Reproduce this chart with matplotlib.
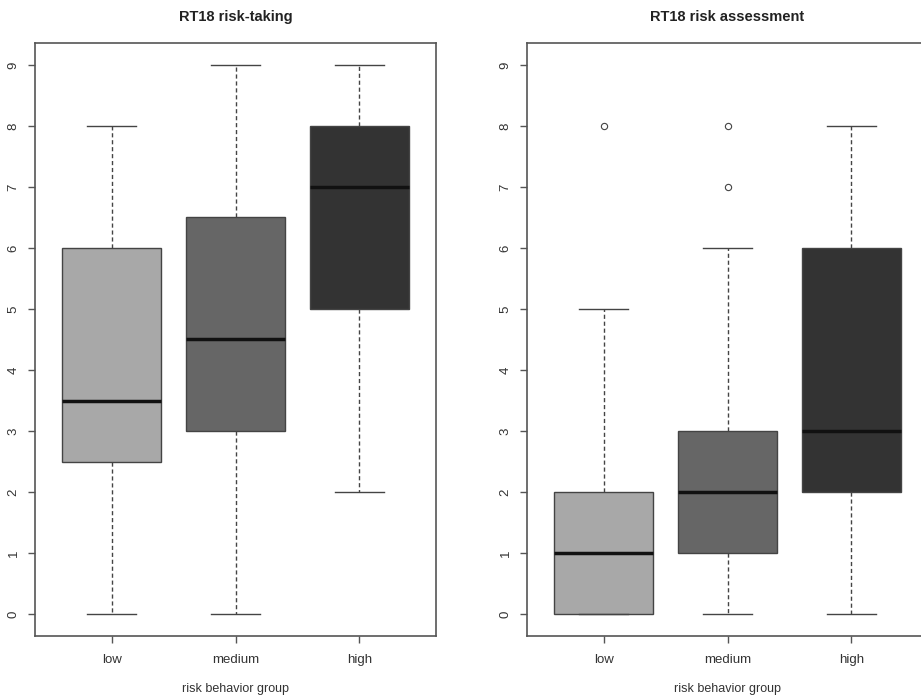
import matplotlib
matplotlib.use("Agg")
import matplotlib.pyplot as plt

plt.rcParams['font.family'] = ['Liberation Sans', 'DejaVu Sans']

groups = ["low", "medium", "high"]
colors = ["#a8a8a8", "#666666", "#333333"]

# RT18 risk-taking
rt_whislo = [0, 0, 2]
rt_q1 = [2.5, 3, 5]
rt_med = [3.5, 4.5, 7]
rt_q3 = [6, 6.5, 8]
rt_whishi = [8, 9, 9]
rt_fliers = [[], [], []]

# RT18 risk assessment
ra_whislo = [0, 0, 0]
ra_q1 = [0, 1, 2]
ra_med = [1, 2, 3]
ra_q3 = [2, 3, 6]
ra_whishi = [5, 6, 8]
ra_fliers = [[8], [7, 8], []]

W, H = 921, 696
fig = plt.figure(figsize=(W / 100, H / 100), dpi=100)

edge = "#444444"
axcol = "#555555"


def panel(left_px, title, whislo, q1, med, q3, whishi, fliers):
    x0 = left_px / W
    y0 = (H - 636) / H
    w = 401 / W
    h = (636 - 43) / H
    ax = fig.add_axes([x0, y0, w, h])
    stats = []
    for i in range(3):
        stats.append(dict(whislo=whislo[i], q1=q1[i], med=med[i], q3=q3[i],
                          whishi=whishi[i], fliers=fliers[i], label=groups[i]))
    bp = ax.bxp(stats, positions=[1, 2, 3], widths=0.8, patch_artist=True,
                showfliers=True,
                boxprops=dict(edgecolor=edge, linewidth=1.0),
                medianprops=dict(color="#111111", linewidth=2.5),
                whiskerprops=dict(color=edge, linewidth=1.0, linestyle=(0, (3, 2))),
                capprops=dict(color=edge, linewidth=1.0),
                capwidths=0.4,
                flierprops=dict(marker='o', markersize=4.5, markerfacecolor='none',
                                markeredgecolor=edge, markeredgewidth=0.8))
    for p, c in zip(bp['boxes'], colors):
        p.set_facecolor(c)
    ax.set_xlim(0.38, 3.62)
    ax.set_ylim(-0.36, 9.36)
    ax.set_yticks(range(0, 10))
    ax.set_yticklabels([str(v) for v in range(0, 10)], rotation=90, va='center',
                       fontsize=9.5, color="#333333")
    ax.set_xticks([1, 2, 3])
    ax.set_xticklabels(groups, fontsize=9.5, color="#333333")
    ax.tick_params(axis='both', length=5, color=axcol, width=1.0)
    ax.tick_params(axis='x', pad=8)
    ax.tick_params(axis='y', pad=6)
    for s in ax.spines.values():
        s.set_color(axcol)
        s.set_linewidth(1.2)
    ax.set_xlabel("risk behavior group", fontsize=9, color="#333333", labelpad=12)
    ax.set_title(title, fontsize=10.5, fontweight='bold', color="#222222", pad=16)
    return ax


panel(35, "RT18 risk-taking", rt_whislo, rt_q1, rt_med, rt_q3, rt_whishi, rt_fliers)
panel(527, "RT18 risk assessment", ra_whislo, ra_q1, ra_med, ra_q3, ra_whishi, ra_fliers)

fig.savefig("out.png", dpi=100)
